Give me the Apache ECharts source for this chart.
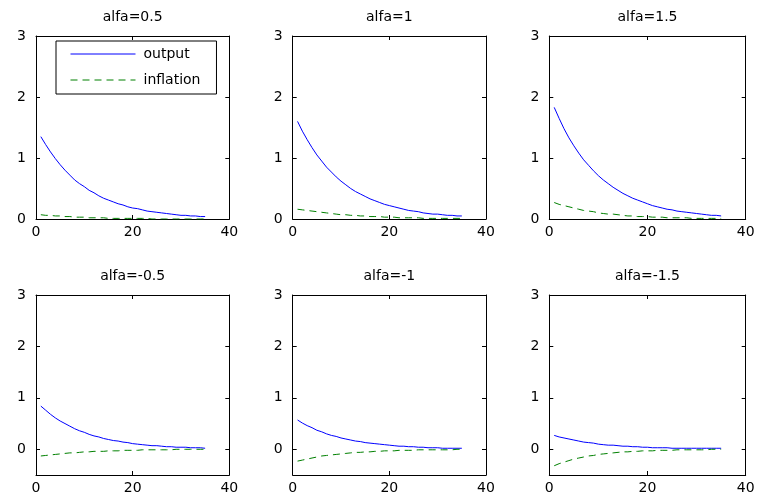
<!DOCTYPE html>
<html>
<head>
<meta charset="utf-8">
<script src="https://cdn.jsdelivr.net/npm/echarts@6/dist/echarts.min.js"></script>
<style>html,body{margin:0;padding:0;background:#fff}#c{width:758px;height:503px}</style>
</head>
<body>
<div id="c"></div>
<script>
// ---- data ----
const titles = ['alfa=0.5', 'alfa=1', 'alfa=1.5', 'alfa=-0.5', 'alfa=-1', 'alfa=-1.5'];
const periods = [1,2,3,4,5,6,7,8,9,10,11,12,13,14,15,16,17,18,19,20,21,22,23,24,25,26,27,28,29,30,31,32,33,34,35];
const xTicks = [0, 20, 40];
const yTicksTop = [0, 1, 2, 3];
const yTicksBottom = [0, 1, 2, 3];

const output_a05 = [1.35,1.22,1.10,0.99,0.89,0.80,0.72,0.64,0.58,0.53,0.47,0.43,0.38,0.34,0.31,0.28,0.25,0.23,0.20,0.18,0.17,0.15,0.13,0.12,0.11,0.10,0.09,0.08,0.07,0.06,0.06,0.05,0.05,0.04,0.04];
const infl_a05   = [0.07,0.06,0.06,0.05,0.05,0.04,0.04,0.03,0.03,0.03,0.02,0.02,0.02,0.02,0.01,0.01,0.01,0.01,0.01,0.01,0.01,0.01,0.01,0.00,0.00,0.00,0.00,0.00,0.00,0.00,0.00,0.00,0.00,0.00,0.00];
const output_a1  = [1.60,1.44,1.30,1.17,1.05,0.95,0.85,0.77,0.69,0.62,0.56,0.50,0.45,0.41,0.37,0.33,0.30,0.27,0.24,0.22,0.20,0.18,0.16,0.14,0.13,0.12,0.10,0.09,0.08,0.08,0.07,0.06,0.06,0.05,0.05];
const infl_a1    = [0.16,0.15,0.14,0.13,0.12,0.11,0.10,0.09,0.08,0.07,0.07,0.06,0.06,0.05,0.05,0.04,0.04,0.04,0.03,0.03,0.03,0.02,0.02,0.02,0.02,0.02,0.01,0.01,0.01,0.01,0.01,0.01,0.01,0.01,0.01];
const output_a15 = [1.83,1.65,1.48,1.33,1.20,1.08,0.97,0.88,0.79,0.71,0.64,0.58,0.52,0.47,0.42,0.38,0.34,0.31,0.28,0.25,0.22,0.20,0.18,0.16,0.15,0.13,0.12,0.11,0.10,0.09,0.08,0.07,0.06,0.06,0.05];
const infl_a15   = [0.27,0.24,0.22,0.20,0.18,0.16,0.14,0.13,0.12,0.10,0.09,0.08,0.08,0.07,0.06,0.05,0.05,0.04,0.04,0.04,0.03,0.03,0.03,0.02,0.02,0.02,0.02,0.02,0.01,0.01,0.01,0.01,0.01,0.01,0.01];
const output_m05 = [0.84,0.76,0.68,0.61,0.55,0.50,0.45,0.40,0.36,0.33,0.29,0.26,0.24,0.21,0.19,0.17,0.16,0.14,0.13,0.11,0.10,0.09,0.08,0.07,0.07,0.06,0.05,0.05,0.04,0.04,0.04,0.03,0.03,0.03,0.02];
const infl_m05   = [-0.13,-0.12,-0.11,-0.10,-0.09,-0.08,-0.07,-0.07,-0.06,-0.05,-0.05,-0.04,-0.04,-0.04,-0.03,-0.03,-0.03,-0.02,-0.02,-0.02,-0.02,-0.01,-0.01,-0.01,-0.01,-0.01,-0.01,-0.01,0.00,0.00,0.00,0.00,0.00,0.00,0.00];
const output_m1  = [0.57,0.51,0.46,0.42,0.37,0.34,0.30,0.27,0.25,0.22,0.20,0.18,0.16,0.15,0.13,0.12,0.11,0.10,0.09,0.08,0.07,0.06,0.06,0.05,0.05,0.04,0.04,0.03,0.03,0.03,0.02,0.02,0.02,0.02,0.02];
const infl_m1    = [-0.23,-0.21,-0.19,-0.17,-0.15,-0.13,-0.12,-0.11,-0.10,-0.09,-0.08,-0.07,-0.06,-0.06,-0.05,-0.05,-0.04,-0.04,-0.03,-0.03,-0.03,-0.02,-0.02,-0.02,-0.02,-0.01,-0.01,-0.01,-0.01,-0.01,-0.01,-0.01,-0.01,0.00,0.00];
const output_m15 = [0.27,0.24,0.22,0.20,0.18,0.16,0.14,0.13,0.12,0.10,0.09,0.08,0.08,0.07,0.06,0.06,0.05,0.05,0.04,0.04,0.03,0.03,0.03,0.03,0.02,0.02,0.02,0.02,0.02,0.02,0.02,0.02,0.02,0.02,0.02];
const infl_m15   = [-0.32,-0.28,-0.25,-0.22,-0.19,-0.17,-0.15,-0.13,-0.12,-0.10,-0.09,-0.08,-0.07,-0.06,-0.05,-0.05,-0.04,-0.04,-0.03,-0.03,-0.03,-0.02,-0.02,-0.02,-0.02,-0.01,-0.01,-0.01,-0.01,-0.01,-0.01,-0.01,0.00,0.00,0.00];

const outputs = [output_a05, output_a1, output_a15, output_m05, output_m1, output_m15];
const inflations = [infl_a05, infl_a1, infl_a15, infl_m05, infl_m1, infl_m15];

// ---- layout ----
const FONT = '"DejaVu Sans", sans-serif';
const lefts = [36, 292.7, 549.3];
const widths = [193.3, 193.3, 196.4];
const tops = [36, 295];
const heights = [183, 180];

const grids = [], xAxes = [], yAxes = [], series = [], graphics = [];
for (let i = 0; i < 6; i++) {
  const r = Math.floor(i / 3), c = i % 3;
  grids.push({left: lefts[c], top: tops[r], width: widths[c], height: heights[r], containLabel: false});
  const lineCfg = {show: true, onZero: false, lineStyle: {color: '#000', width: 1}};
  const tickCfg = {show: true, inside: true, length: 4, lineStyle: {color: '#000', width: 1}};
  xAxes.push({type: 'value', gridIndex: i, position: 'bottom', min: 0, max: 40,
    axisLine: lineCfg, axisTick: Object.assign({customValues: xTicks}, tickCfg),
    axisLabel: {customValues: xTicks, color: '#000', fontSize: 14, fontFamily: FONT, margin: 6},
    splitLine: {show: false}});
  xAxes.push({type: 'value', gridIndex: i, position: 'top', min: 0, max: 40,
    axisLine: lineCfg, axisTick: Object.assign({customValues: xTicks}, tickCfg),
    axisLabel: {show: false}, splitLine: {show: false}});
  const ymin = r === 0 ? 0 : -0.5;
  const yt = r === 0 ? yTicksTop : yTicksBottom;
  yAxes.push({type: 'value', gridIndex: i, position: 'left', min: ymin, max: 3,
    axisLine: lineCfg, axisTick: Object.assign({customValues: yt}, tickCfg),
    axisLabel: {customValues: yt, color: '#000', fontSize: 14, fontFamily: FONT, margin: 10},
    splitLine: {show: false}});
  yAxes.push({type: 'value', gridIndex: i, position: 'right', min: ymin, max: 3,
    axisLine: lineCfg, axisTick: Object.assign({customValues: yt}, tickCfg),
    axisLabel: {show: false}, splitLine: {show: false}});
  series.push({name: 'output', type: 'line', xAxisIndex: 2 * i, yAxisIndex: 2 * i,
    data: periods.map((p, k) => [p, outputs[i][k]]), symbol: 'none',
    lineStyle: {color: '#0000ff', width: 1}, itemStyle: {color: '#0000ff'}});
  series.push({name: 'inflation', type: 'line', xAxisIndex: 2 * i, yAxisIndex: 2 * i,
    data: periods.map((p, k) => [p, inflations[i][k]]), symbol: 'none',
    lineStyle: {color: '#008000', width: 1, type: [7, 5]}, itemStyle: {color: '#008000'}});
  graphics.push({type: 'text', x: lefts[c] + widths[c] / 2, y: r === 0 ? 17 : 276,
    style: {text: titles[i], fill: '#000', font: '14px ' + FONT, textAlign: 'center', textVerticalAlign: 'middle'}});
}

const chart = echarts.init(document.getElementById('c'));
chart.setOption({
  animation: false,
  backgroundColor: '#fff',
  grid: grids,
  xAxis: xAxes,
  yAxis: yAxes,
  series: series,
  graphic: graphics,
  legend: {
    data: ['output', 'inflation'],
    orient: 'vertical', left: 56, top: 41,
    itemWidth: 65, itemHeight: 14, itemGap: 12,
    padding: [6, 16, 7, 14],
    borderColor: '#000', borderWidth: 1, borderRadius: 0,
    backgroundColor: '#fff',
    itemStyle: {opacity: 0},
    lineStyle: {width: 1},
    textStyle: {color: '#000', fontSize: 14, fontFamily: FONT, padding: [0, 0, 0, 3]}
  }
});
</script>
</body>
</html>
